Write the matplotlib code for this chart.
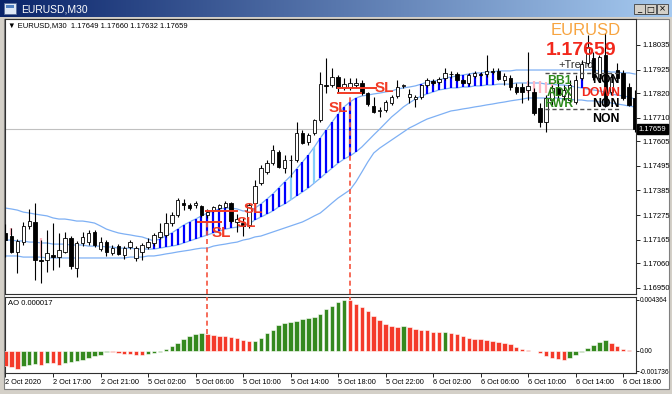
import matplotlib
matplotlib.use("Agg")
import matplotlib.pyplot as plt
import matplotlib.transforms as mtransforms
from matplotlib.patches import Rectangle
from matplotlib.lines import Line2D
from matplotlib.colors import LinearSegmentedColormap
import numpy as np

plt.rcParams['font.family'] = ['Liberation Sans', 'DejaVu Sans']

# ---------------- data ----------------
opens = [
    1.17195, 1.17181, 1.17110, 1.17154, 1.17226, 1.17244, 1.17074, 1.17074, 1.17096, 1.17087,
    1.17110, 1.17172, 1.17038, 1.17150, 1.17154, 1.17199, 1.17123, 1.17154, 1.17105, 1.17136,
    1.17096, 1.17132, 1.17083, 1.17110, 1.17132, 1.17150, 1.17177, 1.17186, 1.17239, 1.17275,
    1.17329, 1.17320, 1.17320, 1.17315, 1.17275, 1.17297, 1.17306, 1.17311, 1.17329, 1.17244,
    1.17239, 1.17230, 1.17329, 1.17418, 1.17467, 1.17507, 1.17557, 1.17485, 1.17521, 1.17521,
    1.17642, 1.17601, 1.17642, 1.17700, 1.17858, 1.17856, 1.17892, 1.17843, 1.17847, 1.17856,
    1.17865, 1.17820, 1.17762, 1.17740, 1.17744, 1.17776, 1.17807, 1.17852, 1.17802, 1.17793,
    1.17802, 1.17856, 1.17874, 1.17869, 1.17887, 1.17905, 1.17905, 1.17878, 1.17865, 1.17896,
    1.17905, 1.17905, 1.17919, 1.17919, 1.17878, 1.17887, 1.17847, 1.17847, 1.17834, 1.17825,
    1.17753, 1.17691, 1.17789, 1.17843, 1.17807, 1.17789, 1.17780, 1.17887, 1.17954, 1.17977,
    1.17887, 1.17990, 1.17825, 1.17923, 1.17910, 1.17847, 1.17798]
highs = [
    1.17235, 1.17217, 1.17168, 1.17244, 1.17302, 1.17329, 1.17163, 1.17208, 1.17239, 1.17195,
    1.17199, 1.17181, 1.17159, 1.17199, 1.17208, 1.17208, 1.17177, 1.17163, 1.17141, 1.17145,
    1.17136, 1.17163, 1.17136, 1.17150, 1.17172, 1.17195, 1.17239, 1.17284, 1.17288, 1.17351,
    1.17346, 1.17329, 1.17338, 1.17320, 1.17302, 1.17315, 1.17324, 1.17338, 1.17333, 1.17279,
    1.17262, 1.17329, 1.17431, 1.17498, 1.17521, 1.17588, 1.17566, 1.17543, 1.17543, 1.17691,
    1.17655, 1.17642, 1.17704, 1.17914, 1.17977, 1.17932, 1.17901, 1.17887, 1.17887, 1.17887,
    1.17878, 1.17825, 1.17802, 1.17758, 1.17789, 1.17811, 1.17878, 1.17860, 1.17838, 1.17811,
    1.17856, 1.17887, 1.17883, 1.17892, 1.17932, 1.17919, 1.17914, 1.17883, 1.17910, 1.17919,
    1.17914, 1.17990, 1.17932, 1.17932, 1.17910, 1.17901, 1.17865, 1.17865, 1.18004, 1.17843,
    1.17776, 1.17811, 1.17856, 1.17878, 1.17856, 1.17878, 1.17901, 1.17968, 1.18080, 1.18004,
    1.17990, 1.18088, 1.17901, 1.17954, 1.17923, 1.17865, 1.17834]
lows = [
    1.17087, 1.17105, 1.17016, 1.17141, 1.17212, 1.16984, 1.16971, 1.17020, 1.17029, 1.17043,
    1.17105, 1.17034, 1.16998, 1.17136, 1.17141, 1.17132, 1.17114, 1.17092, 1.17096, 1.17096,
    1.17078, 1.17123, 1.17069, 1.17074, 1.17123, 1.17136, 1.17168, 1.17177, 1.17226, 1.17266,
    1.17297, 1.17297, 1.17306, 1.17266, 1.17262, 1.17288, 1.17297, 1.17306, 1.17239, 1.17199,
    1.17181, 1.17217, 1.17320, 1.17409, 1.17458, 1.17498, 1.17485, 1.17463, 1.17445, 1.17512,
    1.17592, 1.17588, 1.17633, 1.17691, 1.17820, 1.17847, 1.17820, 1.17834, 1.17834, 1.17843,
    1.17811, 1.17762, 1.17731, 1.17713, 1.17735, 1.17767, 1.17798, 1.17843, 1.17776, 1.17758,
    1.17793, 1.17847, 1.17856, 1.17860, 1.17878, 1.17887, 1.17874, 1.17860, 1.17856, 1.17887,
    1.17896, 1.17892, 1.17905, 1.17878, 1.17856, 1.17834, 1.17816, 1.17776, 1.17789, 1.17722,
    1.17668, 1.17646, 1.17767, 1.17789, 1.17789, 1.17776, 1.17771, 1.17878, 1.17945, 1.17878,
    1.17878, 1.17758, 1.17811, 1.17869, 1.17789, 1.17762, 1.17646]
closes = [
    1.17163, 1.17110, 1.17159, 1.17226, 1.17248, 1.17074, 1.17069, 1.17105, 1.17087, 1.17118,
    1.17172, 1.17047, 1.17150, 1.17177, 1.17195, 1.17141, 1.17154, 1.17110, 1.17127, 1.17101,
    1.17127, 1.17154, 1.17127, 1.17141, 1.17154, 1.17186, 1.17199, 1.17239, 1.17275, 1.17342,
    1.17320, 1.17306, 1.17329, 1.17275, 1.17288, 1.17311, 1.17320, 1.17329, 1.17248, 1.17257,
    1.17226, 1.17320, 1.17405, 1.17485, 1.17507, 1.17566, 1.17490, 1.17521, 1.17519, 1.17642,
    1.17597, 1.17633, 1.17700, 1.17860, 1.17852, 1.17892, 1.17843, 1.17860, 1.17865, 1.17865,
    1.17820, 1.17771, 1.17735, 1.17744, 1.17780, 1.17802, 1.17847, 1.17856, 1.17816, 1.17802,
    1.17856, 1.17878, 1.17865, 1.17883, 1.17910, 1.17903, 1.17878, 1.17865, 1.17901, 1.17910,
    1.17901, 1.17919, 1.17914, 1.17883, 1.17896, 1.17847, 1.17825, 1.17825, 1.17852, 1.17731,
    1.17691, 1.17798, 1.17843, 1.17811, 1.17834, 1.17856, 1.17878, 1.17950, 1.18026, 1.17892,
    1.17981, 1.17767, 1.17892, 1.17887, 1.17798, 1.17767, 1.17659]

upper_line = [
    1.17306, 1.17302, 1.17297, 1.17288, 1.17284, 1.17279, 1.17275, 1.17271, 1.17262, 1.17257,
    1.17257, 1.17253, 1.17248, 1.17248, 1.17244, 1.17239, 1.17226, 1.17212, 1.17203, 1.17195,
    1.17190, 1.17186, 1.17181, 1.17177, 1.17168, 1.17159, 1.17168, 1.17181, 1.17195, 1.17212,
    1.17230, 1.17244, 1.17257, 1.17271, 1.17284, 1.17293, 1.17302, 1.17306, 1.17306, 1.17302,
    1.17293, 1.17293, 1.17306, 1.17324, 1.17346, 1.17369, 1.17396, 1.17423, 1.17449, 1.17481,
    1.17512, 1.17543, 1.17579, 1.17619, 1.17655, 1.17691, 1.17726, 1.17758, 1.17780, 1.17798,
    1.17807, 1.17811, 1.17816, 1.17820, 1.17825, 1.17829, 1.17838, 1.17843, 1.17847, 1.17852,
    1.17860, 1.17869, 1.17874, 1.17878, 1.17887, 1.17892, 1.17896, 1.17901, 1.17905, 1.17910,
    1.17910, 1.17914, 1.17914, 1.17919, 1.17919, 1.17919, 1.17923, 1.17923, 1.17923, 1.17923,
    1.17923, 1.17923, 1.17923, 1.17923, 1.17923, 1.17923, 1.17923, 1.17923, 1.17923, 1.17923,
    1.17919, 1.17919, 1.17914, 1.17914, 1.17910, 1.17910, 1.17905]
middle_line = [
    1.17163, 1.17163, 1.17159, 1.17159, 1.17154, 1.17154, 1.17150, 1.17150, 1.17145, 1.17145,
    1.17145, 1.17141, 1.17141, 1.17141, 1.17136, 1.17136, 1.17136, 1.17132, 1.17132, 1.17127,
    1.17127, 1.17127, 1.17123, 1.17123, 1.17123, 1.17123, 1.17127, 1.17132, 1.17136, 1.17141,
    1.17150, 1.17159, 1.17168, 1.17177, 1.17186, 1.17195, 1.17203, 1.17212, 1.17217, 1.17221,
    1.17226, 1.17235, 1.17253, 1.17266, 1.17279, 1.17293, 1.17311, 1.17324, 1.17342, 1.17360,
    1.17378, 1.17396, 1.17418, 1.17440, 1.17463, 1.17485, 1.17507, 1.17525, 1.17539, 1.17557,
    1.17579, 1.17606, 1.17633, 1.17659, 1.17686, 1.17713, 1.17735, 1.17758, 1.17776, 1.17793,
    1.17807, 1.17816, 1.17825, 1.17834, 1.17838, 1.17843, 1.17843, 1.17847, 1.17847, 1.17852,
    1.17852, 1.17856, 1.17856, 1.17860, 1.17860, 1.17860, 1.17865, 1.17865, 1.17865, 1.17865,
    1.17865, 1.17860, 1.17860, 1.17856, 1.17856, 1.17852, 1.17847, 1.17843, 1.17838, 1.17834,
    1.17829, 1.17825, 1.17816, 1.17811, 1.17807, 1.17802, 1.17793]
lower_line = [
    1.17092, 1.17092, 1.17092, 1.17087, 1.17087, 1.17087, 1.17087, 1.17083, 1.17083, 1.17083,
    1.17083, 1.17083, 1.17083, 1.17083, 1.17083, 1.17083, 1.17083, 1.17083, 1.17083, 1.17083,
    1.17083, 1.17087, 1.17087, 1.17087, 1.17092, 1.17092, 1.17096, 1.17101, 1.17105, 1.17110,
    1.17114, 1.17118, 1.17123, 1.17127, 1.17127, 1.17136, 1.17141, 1.17145, 1.17150, 1.17154,
    1.17163, 1.17168, 1.17177, 1.17181, 1.17190, 1.17199, 1.17208, 1.17217, 1.17226, 1.17235,
    1.17244, 1.17257, 1.17271, 1.17284, 1.17306, 1.17329, 1.17351, 1.17369, 1.17387, 1.17423,
    1.17467, 1.17512, 1.17552, 1.17574, 1.17592, 1.17610, 1.17628, 1.17646, 1.17664, 1.17677,
    1.17691, 1.17704, 1.17713, 1.17722, 1.17731, 1.17740, 1.17744, 1.17749, 1.17753, 1.17758,
    1.17762, 1.17767, 1.17771, 1.17776, 1.17780, 1.17785, 1.17789, 1.17793, 1.17798, 1.17798,
    1.17798, 1.17798, 1.17798, 1.17798, 1.17793, 1.17793, 1.17789, 1.17789, 1.17785, 1.17785,
    1.17780, 1.17780, 1.17776, 1.17771, 1.17767, 1.17762, 1.17758]

# b = blue trend stripe, c = light-blue stripe, . = none
stripe_kind = (".........." ".........." ".....bbbbb" "bbbbbbbbb." ".bbbbbbbcb"
               "bbcbbbbbbb" ".........." "bbbbbbbbbb" "bbb......." ".......b.."
               ".......")
pink_bars = [1, 6, 88, 89, 90, 91, 92]
pink_top = [1.17217, 1.17172, 1.17874, 1.17874, 1.17874, 1.17869, 1.17869]
pink_bottom = [1.17186, 1.17087, 1.17820, 1.17820, 1.17820, 1.17820, 1.17825]

ao_values = [
    -0.00132, -0.00141, -0.00157, -0.00132, -0.00116, -0.00108, -0.00124, -0.00099, -0.00101, -0.00116,
    -0.00099, -0.00091, -0.00083, -0.00075, -0.00058, -0.00041, -0.00033, -0.00008, -0.00011, -0.00017,
    -0.00025, -0.00027, -0.00033, -0.00036, -0.00029, -0.00021, -0.00008, 0.00017, 0.00041, 0.00066,
    0.00099, 0.00124, 0.00141, 0.00149, 0.00141, 0.00132, 0.00128, 0.00124, 0.00120, 0.00108,
    0.00091, 0.00083, 0.00087, 0.00108, 0.00149, 0.00182, 0.00224, 0.00240, 0.00248, 0.00257,
    0.00269, 0.00277, 0.00286, 0.00315, 0.00356, 0.00381, 0.00414, 0.004364, 0.00431, 0.00397,
    0.00373, 0.00339, 0.00298, 0.00265, 0.00232, 0.00211, 0.00207, 0.00209, 0.00203, 0.00190,
    0.00182, 0.00174, 0.00161, 0.00157, 0.00159, 0.00149, 0.00141, 0.00124, 0.00112, 0.00104,
    0.00099, 0.00091, 0.00083, 0.00079, 0.00070, 0.00062, 0.00033, 0.00017, 0.00008, -0.00002,
    -0.00021, -0.00041, -0.00058, -0.00066, -0.00075, -0.00058, -0.00033, -0.00008, 0.00025, 0.00050,
    0.00075, 0.00091, 0.00066, 0.00041, 0.00017, 0.00004, 0.000017]

time_label_bars = [0, 8, 16, 24, 32, 40, 48, 56, 64, 72, 80, 88, 96, 104]
time_labels = ['2 Oct 2020', '2 Oct 17:00', '2 Oct 21:00', '5 Oct 02:00', '5 Oct 06:00',
               '5 Oct 10:00', '5 Oct 14:00', '5 Oct 18:00', '5 Oct 22:00', '6 Oct 02:00',
               '6 Oct 06:00', '6 Oct 10:00', '6 Oct 14:00', '6 Oct 18:00']
price_ticks = [1.18035, 1.17925, 1.17820, 1.17710, 1.17605, 1.17495, 1.17385,
               1.17275, 1.17165, 1.17060, 1.16950]
ao_ticks = [0.004364, 0.0, -0.001736]
ao_tick_labels = ['0.004364', '0.00', '-0.001736']
last_price = 1.17659
header = '\u25BC EURUSD,M30  1.17649 1.17660 1.17632 1.17659'
ao_header = 'AO 0.000017'

# stop-loss markers: (bar start, bar end, price)
sl_lines = [(32.2, 36.4, 1.17244), (33.6, 39.1, 1.17293), (55.8, 62.5, 1.17843), (55.8, 60.0, 1.17820)]
sl_labels = [(36.4, 1.17177), (40.5, 1.17221), (41.8, 1.17284), (56.1, 1.17735), (63.7, 1.17825)]
signal_bars = [34, 58]
signal_prices = [1.17244, 1.17820]

# ---------------- layout helpers ----------------
W, H = 672, 394
fig = plt.figure(figsize=(W / 100, H / 100), dpi=100)
fig.patch.set_facecolor('#d4d0c8')

def fx(px):
    return px / W

def fy(py):
    return 1 - py / H

def fbox(x0, y0, x1, y1):
    return [fx(x0), fy(y1), fx(x1) - fx(x0), fy(y0) - fy(y1)]

# window chrome
bg = fig.add_axes([0, 0, 1, 1])
grad = np.linspace(0, 1, 256).reshape(1, -1)
cmap = LinearSegmentedColormap.from_list('tb', ['#0a246a', '#a6caf0'])
bg.imshow(grad, extent=(0, W, 17, 0), aspect='auto', cmap=cmap, zorder=1)
bg.set_xlim(0, W)
bg.set_ylim(H, 0)
bg.axis('off')
bg.add_patch(Rectangle((4, 19), 665, 370, facecolor='white', edgecolor='#808080', lw=0.8, zorder=1))
bg.add_patch(Rectangle((4, 3), 12, 11, facecolor='#dfe8f6', edgecolor='#5b6f98', lw=0.6, zorder=2))
bg.add_patch(Rectangle((6, 5), 8, 3, facecolor='#4f7fc0', lw=0, zorder=3))
bg.text(21, 9, 'EURUSD,M30', color='white', fontsize=7.5, va='center', ha='left', zorder=3)
for bx, glyph in [(634, '_'), (645, '\u25A1'), (657, '\u00D7')]:
    bg.add_patch(Rectangle((bx, 4), 10.5, 10, facecolor='#d4d0c8', edgecolor='#404040', lw=0.6, zorder=3))
    bg.text(bx + 5.2, 9, glyph, fontsize=6, ha='center', va='center', zorder=4,
            family=['DejaVu Sans'])

# ---------------- main price panel ----------------
ax = fig.add_axes(fbox(5, 19, 636, 294))
ax.set_facecolor('white')
n = len(opens)
x = np.arange(n)
o = np.array(opens); h = np.array(highs); lo = np.array(lows); c = np.array(closes)
up_arr = np.array(upper_line); mid_arr = np.array(middle_line); low_arr = np.array(lower_line)

ax.axhline(last_price, color='#c0c0c0', lw=0.8, zorder=1)
band_col = '#7eb0f4'
ax.plot(x, up_arr, color=band_col, lw=0.9, zorder=2)
ax.plot(x, mid_arr, color=band_col, lw=0.9, zorder=2)
ax.plot(x, low_arr, color=band_col, lw=0.9, zorder=2)

kinds = np.array(list(stripe_kind))
for k, col in [('b', '#0000ff'), ('c', '#87cefa')]:
    idx = np.where(kinds == k)[0]
    ax.vlines(idx, mid_arr[idx], up_arr[idx], color=col, lw=1.6, zorder=3)
ax.vlines(pink_bars, pink_bottom, pink_top, color='#ffb6c1', lw=1.6, zorder=3)

# signal dashed verticals
red = '#f23b25'
ax.vlines(signal_bars, [1.16922] * 2, signal_prices, color='#f5533d', lw=1.2,
          linestyles=(0, (3, 2)), zorder=3.2)

# candles
bull = c >= o
ax.vlines(x, lo, h, color='black', lw=0.8, zorder=4)
ax.bar(x, np.maximum(np.abs(c - o), 0.000012), bottom=np.minimum(o, c), width=0.58,
       color=np.where(bull, 'white', 'black'), edgecolor='black', lw=0.6, zorder=5)

# SL
for x0, x1, yv in sl_lines:
    ax.hlines(yv, x0, x1, color=red, lw=1.4, zorder=6)
for xv, yv in sl_labels:
    ax.text(xv, yv, 'SL', color=red, fontsize=11, fontweight='bold', ha='center',
            va='baseline', zorder=7)

ax.text(fx(558), fy(68), '+Trend', transform=fig.transFigure, color='#303030', fontsize=8,
        ha='left', va='baseline', zorder=3.5)

ax.set_xlim(-0.08, 106.16)
ax.set_ylim(1.16922, 1.18151)
ax.set_xticks([])
ax.yaxis.tick_right()
ax.set_yticks(price_ticks)
ax.set_yticklabels([f'{v:.5f}' for v in price_ticks])
ax.tick_params(axis='y', direction='out', length=3, width=0.6, pad=2, labelsize=5.5)
for s in ax.spines.values():
    s.set_color('#303030'); s.set_linewidth(0.8)

trans = mtransforms.blended_transform_factory(ax.transAxes, ax.transData)
ax.text(1.004, last_price, f'{last_price:.5f}', transform=trans, color='white', fontsize=5.5,
        va='center', ha='left', zorder=10,
        bbox=dict(facecolor='black', edgecolor='black', boxstyle='square,pad=0.25'))

# ---------------- AO panel ----------------
ao_ax = fig.add_axes(fbox(5, 297, 636, 373))
ao = np.array(ao_values)
ao_cols = ['#f43a2a'] + ['#35891f' if ao[i] > ao[i - 1] else '#f43a2a' for i in range(1, n)]
ao_ax.bar(x, ao, width=0.75, color=ao_cols, edgecolor='white', lw=0.4, zorder=3)
ao_ax.vlines(signal_bars, ao[signal_bars], [0.00459] * 2, color='#f5533d', lw=1.2,
             linestyles=(0, (3, 2)), zorder=4)
ao_ax.set_xlim(-0.08, 106.16)
ao_ax.set_ylim(-0.00188, 0.00459)
ao_ax.yaxis.tick_right()
ao_ax.set_yticks(ao_ticks)
ao_ax.set_yticklabels(ao_tick_labels)
ao_ax.set_xticks(time_label_bars)
ao_ax.set_xticklabels(time_labels, ha='left')
ao_ax.tick_params(axis='y', direction='out', length=2, width=0.6, pad=1, labelsize=4.8)
ao_ax.tick_params(axis='x', direction='out', length=3, width=0.6, pad=1.5, labelsize=5.3)
for s in ao_ax.spines.values():
    s.set_color('#303030'); s.set_linewidth(0.8)

# ---------------- overlay texts ----------------
fig.text(fx(8), fy(27), header, fontsize=5.5, ha='left', va='baseline')
fig.text(fx(8), fy(305), ao_header, fontsize=5.5, ha='left', va='baseline')

fig.text(fx(586), fy(35), 'EURUSD', color='#f7a440', fontsize=12, ha='center', va='baseline')
fig.text(fx(581), fy(55), f'{last_price:.5f}', color='#f2281c', fontsize=14, fontweight='bold',
         ha='center', va='baseline')
for yy in (73, 109):
    fig.add_artist(Line2D([fx(545), fx(620)], [fy(yy), fy(yy)], color='#505050', lw=1.0,
                          ls=(0, (3, 2)), transform=fig.transFigure))
green = '#2e8b1e'
for txt, xx, yy in [('BB1', 547, 84.5), ('ADX', 547, 96.5), ('RWR', 544, 107)]:
    fig.text(fx(xx), fy(yy), txt, color=green, fontsize=8.8, fontweight='bold', ha='left', va='baseline')
for txt, col, yy in [('NON', 'black', 83), ('DOWN', '#f2281c', 96.5), ('NON', 'black', 107), ('NON', 'black', 122)]:
    fig.text(fx(620), fy(yy), txt, color=col, fontsize=8.8, fontweight='bold', ha='right', va='baseline')

fig.savefig('out.png', dpi=100, facecolor=fig.get_facecolor())
